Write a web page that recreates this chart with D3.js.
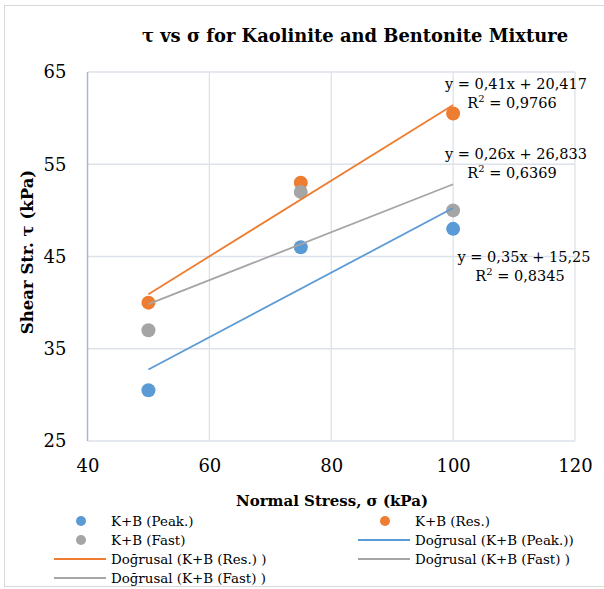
<!DOCTYPE html>
<html>
<head>
<meta charset="utf-8">
<script src="https://d3js.org/d3.v7.min.js"></script>
<style>
  body { margin: 0; background: #fff; }
  text { font-family: "DejaVu Serif", "Liberation Serif", serif; fill: #000; }
</style>
</head>
<body>
<script>
  // data
  var stress = [50, 75, 100];
  var peak = [30.5, 46, 48];
  var res = [40, 53, 60.5];
  var fast = [37, 52, 50];
  var xTicks = [40, 60, 80, 100, 120];
  var yTicks = [25, 35, 45, 55, 65];
  var eqRes = ["y = 0,41x + 20,417", "0,9766"];
  var eqFast = ["y = 0,26x + 26,833", "0,6369"];
  var eqPeak = ["y = 0,35x + 15,25", "0,8345"];

  var W = 604, H = 589;
  var svg = d3.select("body").append("svg").attr("width", W).attr("height", H);

  // outer chart border
  svg.append("rect").attr("x", 4.5).attr("y", 5.5).attr("width", 640).attr("height", 581)
    .style("fill", "none").style("stroke", "#D9D9D9");

  var x = d3.scaleLinear().domain([40, 120]).range([87.5, 575]);
  var y = d3.scaleLinear().domain([25, 65]).range([441, 72]);

  // gridlines
  svg.selectAll("line.gx").data(xTicks.slice(1)).enter().append("line")
    .attr("x1", function(d){ return x(d); }).attr("x2", function(d){ return x(d); })
    .attr("y1", y(65)).attr("y2", y(25))
    .style("stroke", "#DDE2EA").style("stroke-width", 1.3);
  svg.selectAll("line.gy").data(yTicks).enter().append("line")
    .attr("x1", x(40)).attr("x2", x(120))
    .attr("y1", function(d){ return y(d); }).attr("y2", function(d){ return y(d); })
    .style("stroke", "#DDE2EA").style("stroke-width", 1.3);
  // left axis line
  svg.append("line").attr("x1", x(40)).attr("x2", x(40)).attr("y1", y(65)).attr("y2", y(25))
    .style("stroke", "#A9B6CB").style("stroke-width", 1.5);

  // axes (labels only)
  var xAxis = d3.axisBottom(x).tickValues(xTicks).tickSize(0).tickPadding(18);
  var gx = svg.append("g").attr("transform", "translate(0," + y(25) + ")").call(xAxis);
  gx.select(".domain").remove();
  gx.selectAll("text").style("font-size", "18px").style("font-family", "DejaVu Serif, serif");

  var yAxis = d3.axisLeft(y).tickValues(yTicks).tickSize(0).tickPadding(21);
  var gy = svg.append("g").attr("transform", "translate(" + x(40) + ",0)").call(yAxis);
  gy.select(".domain").remove();
  gy.selectAll("text").style("font-size", "18px").style("font-family", "DejaVu Serif, serif");

  // trend lines from least squares
  function fit(ys) {
    var mx = d3.mean(stress), my = d3.mean(ys);
    var sxy = d3.sum(stress, function(v, i){ return (v - mx) * (ys[i] - my); });
    var sxx = d3.sum(stress, function(v){ return (v - mx) * (v - mx); });
    var b = sxy / sxx;
    return [[stress[0], my + b * (stress[0] - mx)], [stress[2], my + b * (stress[2] - mx)]];
  }
  var line = d3.line().x(function(d){ return x(d[0]); }).y(function(d){ return y(d[1]); });

  var series = [
    { vals: peak, color: "#5B9BD5" },
    { vals: res, color: "#ED7D31" },
    { vals: fast, color: "#A5A5A5" }
  ];

  series.forEach(function(s) {
    svg.selectAll(null).data(stress).enter().append("circle")
      .attr("cx", function(d){ return x(d); })
      .attr("cy", function(d, i){ return y(s.vals[i]); })
      .attr("r", 7).style("fill", s.color);
  });
  series.forEach(function(s) {
    svg.append("path").attr("d", line(fit(s.vals)))
      .style("fill", "none").style("stroke", s.color).style("stroke-width", 1.8);
  });

  // equations
  function eq(lbl, cx, cy) {
    svg.append("text").attr("x", cx).attr("y", cy).attr("text-anchor", "middle")
      .style("font-size", "14.5px").text(lbl[0]);
    var t = svg.append("text").attr("x", cx - 4).attr("y", cy + 19).attr("text-anchor", "middle")
      .style("font-size", "14.5px");
    t.append("tspan").text("R");
    t.append("tspan").attr("dy", -6).style("font-size", "10px").text("2");
    t.append("tspan").attr("dy", 6).text(" = " + lbl[1]);
  }
  eq(eqRes, 516, 89);
  eq(eqFast, 516, 159);
  eq(eqPeak, 524, 262);

  // title
  svg.append("text").attr("x", 355).attr("y", 42).attr("text-anchor", "middle")
    .style("font-size", "17.9px").style("font-weight", "bold")
    .text("τ vs σ for Kaolinite and Bentonite Mixture");

  // axis titles
  svg.append("text").attr("x", 332).attr("y", 506).attr("text-anchor", "middle")
    .style("font-size", "15px").style("font-weight", "bold").text("Normal Stress, σ (kPa)");
  svg.append("text").attr("transform", "translate(33,252) rotate(-90)").attr("text-anchor", "middle")
    .style("font-size", "16.5px").style("font-weight", "bold").text("Shear Str.  τ (kPa)");

  // legend
  var legend = [
    { label: "K+B (Peak.)", color: "#5B9BD5", type: "dot", col: 0, row: 0 },
    { label: "K+B (Res.)", color: "#ED7D31", type: "dot", col: 1, row: 0 },
    { label: "K+B (Fast)", color: "#A5A5A5", type: "dot", col: 0, row: 1 },
    { label: "Doğrusal (K+B (Peak.))", color: "#5B9BD5", type: "line", col: 1, row: 1 },
    { label: "Doğrusal (K+B (Res.) )", color: "#ED7D31", type: "line", col: 0, row: 2 },
    { label: "Doğrusal (K+B (Fast) )", color: "#A5A5A5", type: "line", col: 1, row: 2 },
    { label: "Doğrusal (K+B (Fast) )", color: "#A5A5A5", type: "line", col: 0, row: 3 }
  ];
  var colX = [54, 358];
  legend.forEach(function(d) {
    var lx = colX[d.col], ly = 521 + d.row * 19;
    if (d.type === "dot") {
      svg.append("circle").attr("cx", lx + 27).attr("cy", ly).attr("r", 5).style("fill", d.color);
    } else {
      svg.append("line").attr("x1", lx).attr("x2", lx + 52).attr("y1", ly).attr("y2", ly)
        .style("stroke", d.color).style("stroke-width", 2);
    }
    svg.append("text").attr("x", lx + 57).attr("y", ly + 5).style("font-size", "13.4px").text(d.label);
  });
</script>
</body>
</html>
